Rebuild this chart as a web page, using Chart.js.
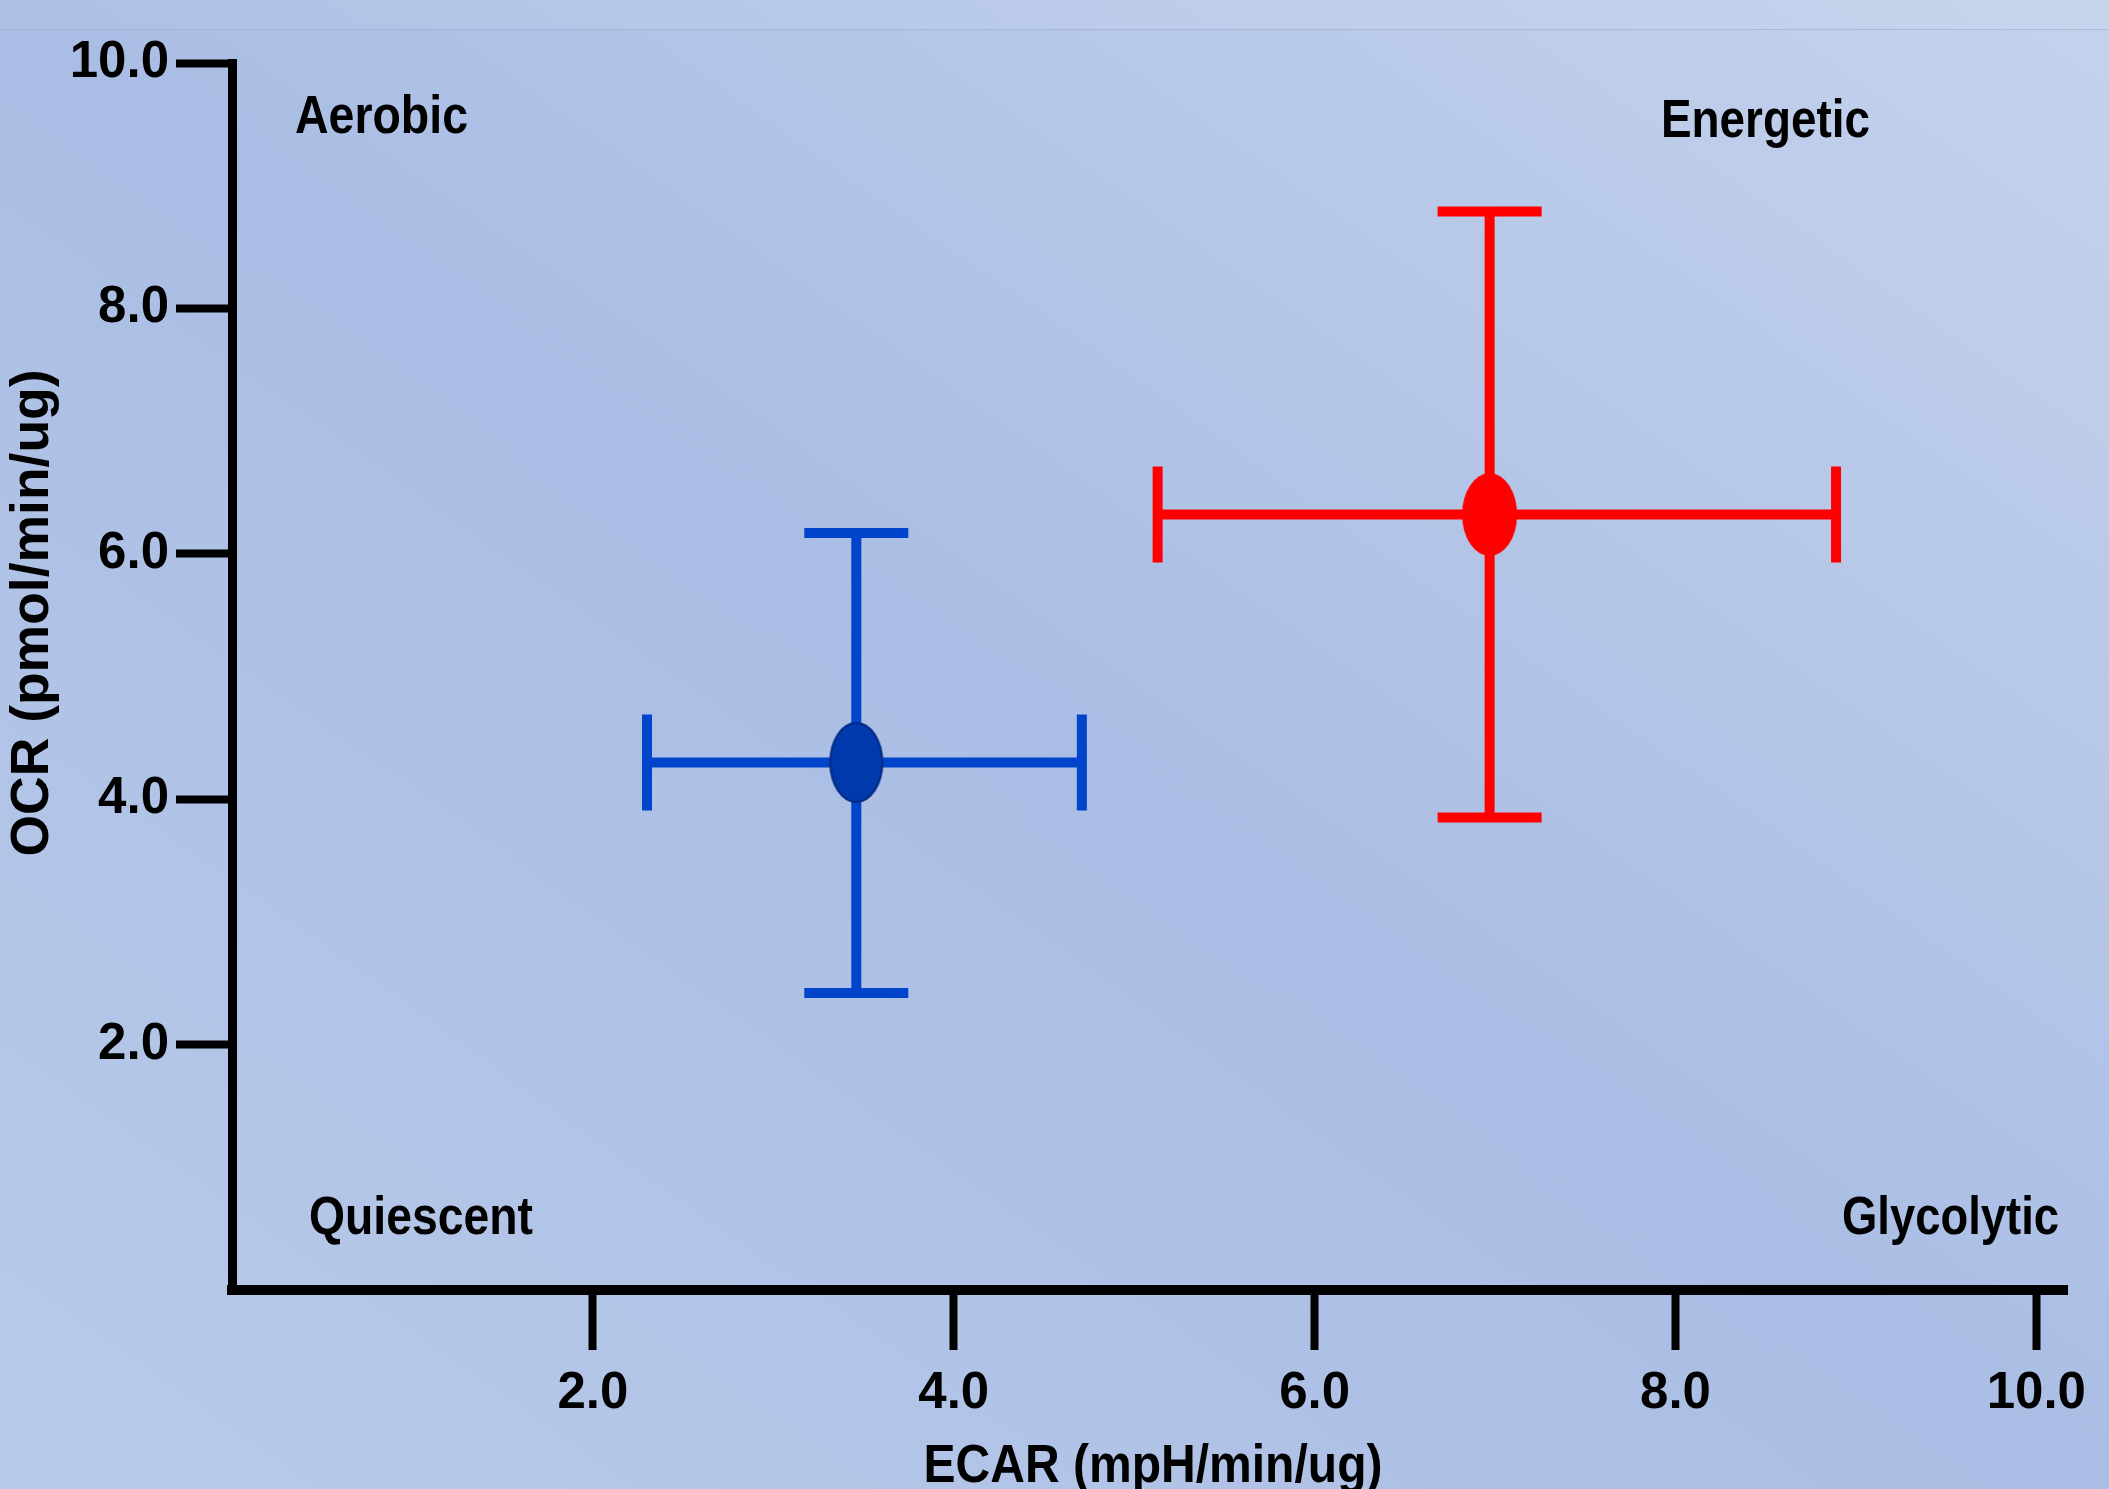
<!DOCTYPE html>
<html>
<head>
<meta charset="utf-8">
<script src="https://cdn.jsdelivr.net/npm/chart.js@4.4.1/dist/chart.umd.min.js"></script>
<style>
html, body { margin: 0; padding: 0; width: 2109px; height: 1489px; overflow: hidden; }
body { position: relative; background: linear-gradient(to top right, #B9CAE9 0%, #AABDE4 50%, #C4D3EC 100%); }
#band { position: absolute; left: 0; top: 0; width: 2109px; height: 29px; background: rgba(255,255,255,0.06); border-bottom: 1px solid rgba(140,160,205,0.45); }
canvas { position: absolute; left: 0; top: 0; }
</style>
</head>
<body>
<div id="band"></div>
<canvas id="chart" width="2109" height="1489"></canvas>
<script>
// ---- data ----
const seriesNames = ['Blue group', 'Red group'];
const ecarValues = [3.46, 6.97];
const ocrValues  = [4.30, 6.32];
const ecarLow  = [2.30, 5.13];
const ecarHigh = [4.71, 8.89];
const ocrLow   = [2.42, 3.85];
const ocrHigh  = [6.17, 8.79];
const xTickValues = [2, 4, 6, 8, 10];
const yTickValues = [2, 4, 6, 8, 10];
const xTitle = 'ECAR (mpH/min/ug)';
const yTitle = 'OCR (pmol/min/ug)';
const quadrantLabels = ['Aerobic', 'Energetic', 'Quiescent', 'Glycolytic'];

// ---- styles ----
const FONT = "'Liberation Sans', Arial, sans-serif";
const barColors = ['#0044CC', '#FF0000'];
const markerFill = ['#0039AC', '#FF0000'];
const markerStroke = ['#002A80', '#FF0000'];
const markerSize = [[52, 79], [55, 83]];

function ellipseImage(w, h, fill, stroke, lw) {
  const c = document.createElement('canvas');
  c.width = w + lw * 2; c.height = h + lw * 2;
  const g = c.getContext('2d');
  g.beginPath();
  g.ellipse(c.width / 2, c.height / 2, w / 2, h / 2, 0, 0, Math.PI * 2);
  g.fillStyle = fill; g.fill();
  if (lw) { g.lineWidth = lw; g.strokeStyle = stroke; g.stroke(); }
  return c;
}

const datasets = seriesNames.map((name, i) => ({
  label: name,
  data: [{ x: ecarValues[i], y: ocrValues[i] }],
  pointStyle: ellipseImage(markerSize[i][0], markerSize[i][1], markerFill[i], markerStroke[i], i === 0 ? 2 : 0),
  errorBars: { xLow: ecarLow[i], xHigh: ecarHigh[i], yLow: ocrLow[i], yHigh: ocrHigh[i] },
  barColor: barColors[i]
}));

const errorBarPlugin = {
  id: 'errorBars',
  beforeDatasetsDraw(chart) {
    const { ctx } = chart;
    const xs = chart.scales.x, ys = chart.scales.y;
    chart.data.datasets.forEach((ds) => {
      const e = ds.errorBars;
      const p = ds.data[0];
      const cx = xs.getPixelForValue(p.x), cy = ys.getPixelForValue(p.y);
      const xl = xs.getPixelForValue(e.xLow), xh = xs.getPixelForValue(e.xHigh);
      const yl = ys.getPixelForValue(e.yLow), yh = ys.getPixelForValue(e.yHigh);
      const capV = 48, capH = 52;
      ctx.save();
      ctx.strokeStyle = ds.barColor;
      ctx.lineWidth = 10;
      ctx.lineCap = 'butt';
      ctx.beginPath();
      ctx.moveTo(xl, cy); ctx.lineTo(xh, cy);
      ctx.moveTo(cx, yl); ctx.lineTo(cx, yh);
      ctx.moveTo(xl, cy - capV); ctx.lineTo(xl, cy + capV);
      ctx.moveTo(xh, cy - capV); ctx.lineTo(xh, cy + capV);
      ctx.moveTo(cx - capH, yl); ctx.lineTo(cx + capH, yl);
      ctx.moveTo(cx - capH, yh); ctx.lineTo(cx + capH, yh);
      ctx.stroke();
      ctx.restore();
    });
  }
};

// draw a text line fitted to a given width (condensed like the original face)
function fitText(ctx, text, x, y, width, align) {
  const w = ctx.measureText(text).width;
  const s = width / w;
  ctx.save();
  ctx.translate(x, y);
  ctx.scale(s, 1);
  ctx.textAlign = align;
  ctx.fillText(text, 0, 0);
  ctx.restore();
}

const textPlugin = {
  id: 'texts',
  afterDraw(chart) {
    const { ctx } = chart;
    ctx.save();
    ctx.fillStyle = '#000';
    ctx.font = 'bold 53px ' + FONT;
    ctx.textBaseline = 'alphabetic';
    fitText(ctx, quadrantLabels[0], 295, 133, 173, 'left');
    fitText(ctx, quadrantLabels[1], 1661, 137, 209, 'left');
    fitText(ctx, quadrantLabels[2], 309, 1234, 224, 'left');
    fitText(ctx, quadrantLabels[3], 1842, 1234, 217, 'left');
    fitText(ctx, xTitle, 1153, 1482, 459, 'center');
    ctx.translate(48, 613);
    ctx.rotate(-Math.PI / 2);
    fitText(ctx, yTitle, 0, 0, 487, 'center');
    ctx.restore();
  }
};

const tickFont = { family: FONT, size: 51, weight: 'bold' };

new Chart(document.getElementById('chart').getContext('2d'), {
  type: 'scatter',
  data: { datasets },
  options: {
    responsive: false,
    animation: false,
    devicePixelRatio: 1,
    layout: { padding: { top: 63, right: 42, bottom: 0, left: 0 } },
    plugins: { legend: { display: false }, tooltip: { enabled: false } },
    elements: { point: { radius: 30, hoverRadius: 30 } },
    scales: {
      x: {
        type: 'linear', min: 0, max: 10.17,
        afterBuildTicks: (s) => { s.ticks = xTickValues.map(v => ({ value: v })); },
        afterFit: (s) => { s.height = 199; },
        grid: { drawOnChartArea: false, drawTicks: true, tickLength: 60, tickWidth: 8, tickColor: '#000' },
        border: { display: true, color: '#000', width: 10 },
        ticks: { color: '#000', font: tickFont, padding: 13, maxRotation: 0, autoSkip: false, callback: (v) => Number(v).toFixed(1) }
      },
      y: {
        type: 'linear', min: 0, max: 10,
        afterBuildTicks: (s) => { s.ticks = yTickValues.map(v => ({ value: v })); },
        afterFit: (s) => { s.width = 232; },
        grid: { drawOnChartArea: false, drawTicks: true, tickLength: 56, tickWidth: 8, tickColor: '#000' },
        border: { display: true, color: '#000', width: 9 },
        ticks: { color: '#000', font: tickFont, padding: 7, autoSkip: false, callback: (v) => Number(v).toFixed(1) }
      }
    }
  },
  plugins: [errorBarPlugin, textPlugin]
});
</script>
</body>
</html>
